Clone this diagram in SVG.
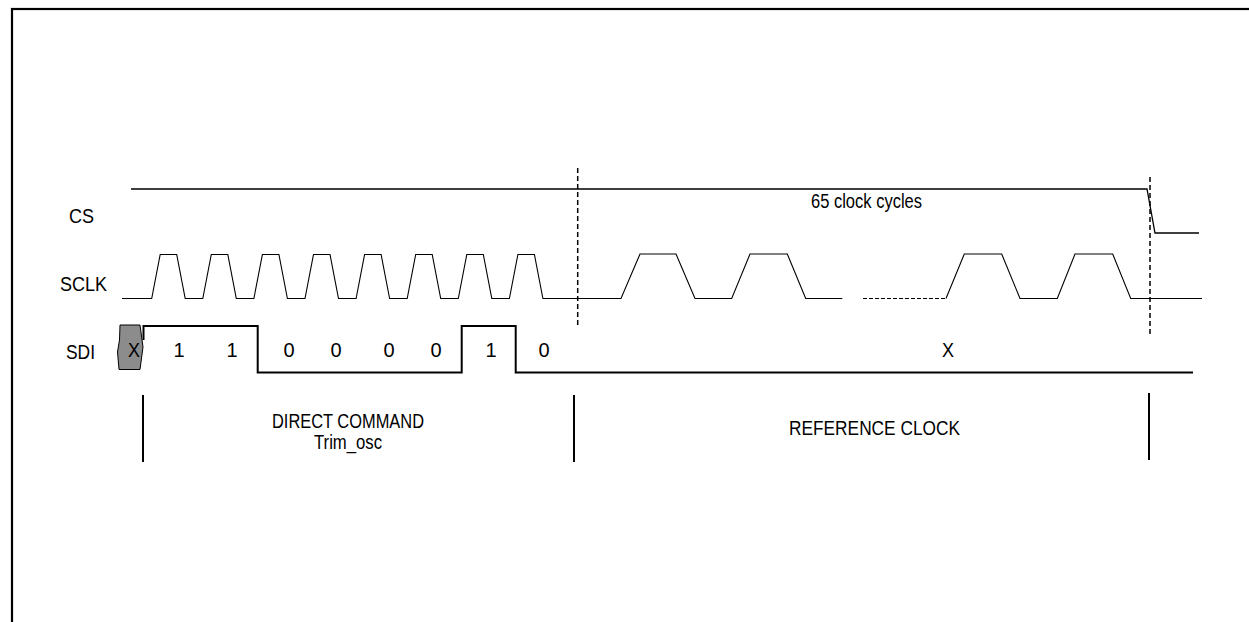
<svg xmlns="http://www.w3.org/2000/svg" width="1249" height="622" viewBox="0 0 1249 622">
<style>
.t{font-family:"Liberation Sans",Arial,sans-serif;font-size:20px;fill:#000}
.w{fill:none;stroke:#000;stroke-linejoin:miter}
.dash{fill:none;stroke:#000;stroke-width:1.5;stroke-dasharray:5,3}
.bar{stroke:#000;stroke-width:2}
</style>
<rect x="12" y="9" width="1300" height="700" fill="#fff" stroke="#000" stroke-width="2.2"/>
<g id="labels">
<text class="t" x="69" y="223" textLength="25" lengthAdjust="spacingAndGlyphs">CS</text>
<text class="t" x="60" y="291" textLength="47" lengthAdjust="spacingAndGlyphs">SCLK</text>
<text class="t" x="66" y="359" textLength="29" lengthAdjust="spacingAndGlyphs">SDI</text>
</g>
<g id="connectors">
<path id="cs" class="w" stroke-width="1.3" d="M131,189 L1147,189 L1155,233 L1199,233"/>
<path id="sclk" class="w" stroke-width="1.1" d="M122,298.5 L151.7,298.5 L160.2,254.5 L176.7,254.5 L185.2,298.5 L202.8,298.5 L211.3,254.5 L227.8,254.5 L236.3,298.5 L253.9,298.5 L262.4,254.5 L278.9,254.5 L287.4,298.5 L305,298.5 L313.5,254.5 L330,254.5 L338.5,298.5 L356.1,298.5 L364.6,254.5 L381.1,254.5 L389.6,298.5 L407.2,298.5 L415.7,254.5 L432.2,254.5 L440.7,298.5 L458.3,298.5 L466.8,254.5 L483.3,254.5 L491.8,298.5 L509.4,298.5 L517.9,254.5 L534.4,254.5 L542.9,298.5 L621,298.5 L640,254 L676,254 L695,298.5 L731.7,298.5 L750,254 L787.3,254 L805.7,298.5 L842.3,298.5"/>
<path class="w" stroke-width="1.1" stroke-dasharray="4,2" d="M863,298.5 L946,298.5"/>
<path class="w" stroke-width="1.1" d="M946,298.5 L964.3,254 L1001.7,254 L1020,298.5 L1057.3,298.5 L1075,254 L1112.7,254 L1130.7,298.5 L1202,298.5"/>
<path id="sdi" class="w" stroke-width="2" d="M143.5,340 L143.5,326 L257.7,326 L257.7,372.5 L461.7,372.5 L461.7,326 L515.7,326 L515.7,372.5 L1193,372.5"/>
<line class="dash" x1="577.7" y1="168" x2="577.7" y2="326"/>
<line class="dash" x1="1150" y1="177" x2="1150" y2="335"/>
<line class="bar" x1="143" y1="395" x2="143" y2="462"/>
<line class="bar" x1="574" y1="395" x2="574" y2="462"/>
<line class="bar" x1="1149" y1="393" x2="1149" y2="460"/>
</g>
<g id="sdi-bits">
<path d="M120,325 L140,325 L143,347 L140,369.5 L119,369.5 L117.5,352 L119.5,340 Z" fill="#8c8c8c" stroke="#000" stroke-width="1"/>
<text class="t" x="134" y="357" text-anchor="middle" textLength="12" lengthAdjust="spacingAndGlyphs">X</text>
<text class="t" x="179" y="357" text-anchor="middle">1</text>
<text class="t" x="232" y="357" text-anchor="middle">1</text>
<text class="t" x="289" y="357" text-anchor="middle">0</text>
<text class="t" x="336" y="357" text-anchor="middle">0</text>
<text class="t" x="389" y="357" text-anchor="middle">0</text>
<text class="t" x="436" y="357" text-anchor="middle">0</text>
<text class="t" x="491" y="357" text-anchor="middle">1</text>
<text class="t" x="544" y="357" text-anchor="middle">0</text>
<text class="t" x="948" y="357" text-anchor="middle" textLength="12" lengthAdjust="spacingAndGlyphs">X</text>
</g>
<g id="cycles">
<text class="t" x="811" y="208" textLength="111" lengthAdjust="spacingAndGlyphs">65 clock cycles</text>
</g>
<g id="direct-command">
<text class="t" x="272" y="428" textLength="152" lengthAdjust="spacingAndGlyphs">DIRECT COMMAND</text>
<text class="t" x="314" y="449" textLength="68" lengthAdjust="spacingAndGlyphs">Trim_osc</text>
</g>
<g id="reference-clock">
<text class="t" x="789" y="435" textLength="171" lengthAdjust="spacingAndGlyphs">REFERENCE CLOCK</text>
</g>
</svg>
